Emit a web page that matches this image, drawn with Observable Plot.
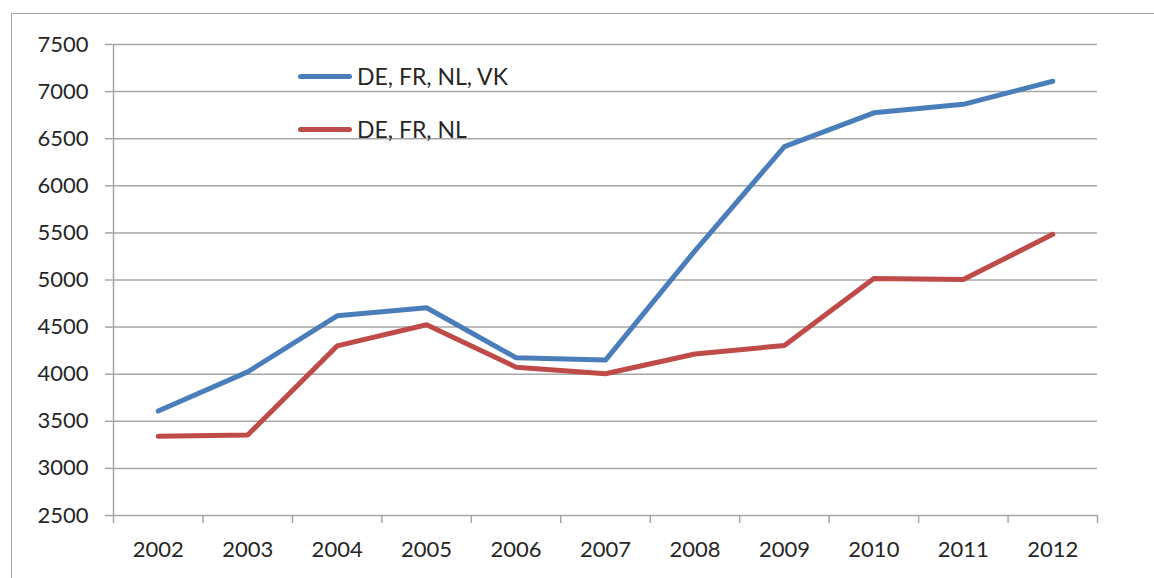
<!DOCTYPE html>
<html>
<head>
<meta charset="utf-8">
<script src="https://cdn.jsdelivr.net/npm/d3@7"></script>
<script src="https://cdn.jsdelivr.net/npm/@observablehq/plot@0.6"></script>
<style>
  html, body { margin: 0; padding: 0; background: #fff; }
  body { width: 1154px; height: 578px; position: relative; overflow: hidden; font-family: Lato, "Open Sans", sans-serif; }
  #frame { position: absolute; left: 11px; top: 13px; width: 1160px; height: 600px; border-top: 1.5px solid #a6a6a6; border-left: 1.5px solid #a6a6a6; box-sizing: border-box; }
  #chart { position: absolute; left: 0; top: 0; }
  .leg { position: absolute; display: flex; align-items: center; font-size: 23px; color: #262626; }
  .sw { width: 54px; height: 5px; border-radius: 3px; margin-right: 5px; }
</style>
</head>
<body>
<div id="frame"></div>
<div id="chart"></div>
<div class="leg" style="left:298px; top:62px;"><div class="sw" style="background:#4a7ebb"></div><span>DE, FR, NL, VK</span></div>
<div class="leg" style="left:298px; top:115px;"><div class="sw" style="background:#be4b48"></div><span>DE, FR, NL</span></div>
<script>
const years = [2002, 2003, 2004, 2005, 2006, 2007, 2008, 2009, 2010, 2011, 2012];
const seriesNames = ["DE, FR, NL, VK", "DE, FR, NL"];
const deFrNlVk = [3610, 4025, 4620, 4705, 4175, 4150, 5310, 6415, 6775, 6865, 7110];
const deFrNl = [3340, 3355, 4300, 4525, 4075, 4005, 4215, 4305, 5015, 5005, 5485];
const colors = ["#4a7ebb", "#be4b48"];
const yTicks = [2500, 3000, 3500, 4000, 4500, 5000, 5500, 6000, 6500, 7000, 7500];

const data = [];
[deFrNlVk, deFrNl].forEach((vals, i) => {
  vals.forEach((v, j) => data.push({series: seriesNames[i], year: years[j], value: v}));
});
const boundaries = [years[0] - 0.5, ...years.map(y => y + 0.5)];
const grid = "#a6a6a6";

const chart = Plot.plot({
  width: 1154,
  height: 578,
  marginLeft: 113,
  marginRight: 57,
  marginTop: 44,
  marginBottom: 63,
  style: {fontFamily: "Lato, 'Open Sans', sans-serif", fontSize: "22px", color: "#262626", background: "transparent"},
  x: {domain: [years[0] - 0.5, years[years.length - 1] + 0.5], axis: null},
  y: {domain: [2500, 7500], axis: null},
  color: {domain: seriesNames, range: colors},
  marks: [
    Plot.ruleY(yTicks, {y: d => d, x1: boundaries[0], x2: boundaries[boundaries.length - 1], stroke: grid, strokeWidth: 1.5}),
    Plot.axisY({ticks: yTicks, tickSize: 8, tickPadding: 17, stroke: grid, strokeWidth: 1.5, strokeOpacity: 1, tickFormat: d => String(d), fill: "#262626", label: null}),
    Plot.ruleX([boundaries[0]], {x: d => d, y1: 2500, y2: 7500, stroke: grid, strokeWidth: 1.5}),
    Plot.axisX({ticks: boundaries, tickSize: 8, tickFormat: () => "", stroke: grid, strokeWidth: 1.5, strokeOpacity: 1, label: null}),
    Plot.axisX({ticks: years, tickSize: 0, tickPadding: 26, tickFormat: d => String(d), fill: "#262626", label: null}),
    Plot.line(data, {x: "year", y: "value", z: "series", stroke: "series", strokeWidth: 5, strokeLinecap: "round", strokeLinejoin: "round"})
  ]
});
document.getElementById("chart").appendChild(chart);
</script>
</body>
</html>
